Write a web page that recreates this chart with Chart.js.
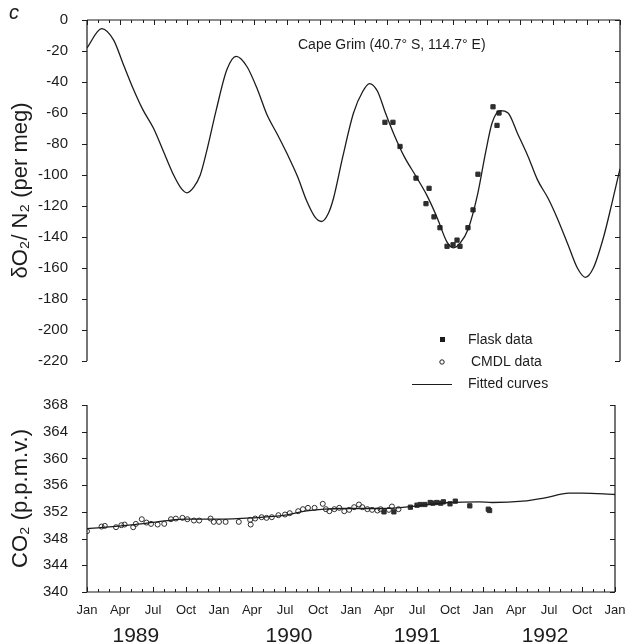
<!DOCTYPE html>
<html>
<head>
<meta charset="utf-8">
<script src="https://cdn.jsdelivr.net/npm/chart.js@4.4.1/dist/chart.umd.min.js"></script>
<style>
  body { margin: 0; background: #fff; }
  #wrap { position: relative; width: 628px; height: 643px; overflow: hidden; }
  #o2-canvas { position: absolute; left: 0; top: 0; }
  #co2-canvas { position: absolute; left: 0; top: 385px; }
</style>
</head>
<body>
<div id="wrap">
  <canvas id="o2-canvas" width="628" height="395"></canvas>
  <canvas id="co2-canvas" width="628" height="258"></canvas>
</div>
<script>
// time axis (decimal years) and its labels
const monthLabels = ["Jan", "Apr", "Jul", "Oct"];
const yearLabels = ["1989", "1990", "1991", "1992"];
const yearLabelValues = [1989.37, 1990.53, 1991.5, 1992.47];

// O2/N2 fitted curve (per meg)
const o2FitYears = [1989.0, 1989.11, 1989.2, 1989.27, 1989.35, 1989.42, 1989.5, 1989.57, 1989.65, 1989.71, 1989.75,
  1989.8, 1989.85, 1989.9, 1989.97, 1990.05, 1990.12, 1990.2, 1990.28, 1990.35, 1990.43, 1990.5, 1990.58, 1990.65,
  1990.71, 1990.76, 1990.81, 1990.85, 1990.92, 1991.0, 1991.07, 1991.12, 1991.18, 1991.24, 1991.3, 1991.38, 1991.47,
  1991.55, 1991.63, 1991.7, 1991.75, 1991.8, 1991.86, 1991.93, 1991.99, 1992.04, 1992.1, 1992.16, 1992.23, 1992.31,
  1992.38, 1992.46, 1992.53, 1992.61, 1992.68, 1992.74, 1992.8, 1992.88, 1992.94, 1993.0];
const o2FitValues = [-18, -5.5, -13, -28, -45, -58, -70, -84, -100, -109, -111.5,
  -108, -100, -84, -58, -32, -23.5, -30, -45, -61, -74, -86, -101, -117,
  -127, -130, -125, -115, -88, -60, -46, -41, -46, -60, -73, -88, -101,
  -113, -128, -143, -147, -144, -135, -113, -86, -66.5, -58.5, -60, -73, -88,
  -103, -115, -128, -145, -160, -166, -160, -139, -118, -96];

// O2/N2 flask data
const o2FlaskYears = [1991.236, 1991.296, 1991.349, 1991.469, 1991.544, 1991.567, 1991.604, 1991.649, 1991.702,
  1991.747, 1991.777, 1991.799, 1991.859, 1991.897, 1991.934, 1992.047, 1992.077, 1992.092];
const o2FlaskValues = [-66, -66, -81.6, -102, -118.5, -108.6, -127, -134, -146,
  -145, -142, -146, -134, -122.5, -99.5, -56, -68, -60];

// CO2 fitted curve (p.p.m.v.)
const co2FitYears = [1989.0, 1989.36, 1989.61, 1989.75, 1990.0, 1990.25, 1990.5, 1990.65, 1990.8, 1990.93, 1991.25,
  1991.5, 1991.75, 1991.97, 1992.07, 1992.3, 1992.47, 1992.65, 1992.75, 1993.0];
const co2FitValues = [349.5, 350.1, 350.7, 350.9, 350.9, 351.1, 351.5, 352.1, 352.4, 352.5, 352.5,
  352.9, 353.4, 353.5, 353.4, 353.6, 354.1, 354.8, 354.8, 354.6];

// CO2 CMDL data
const cmdlYears = [1989.0, 1989.11, 1989.135, 1989.22, 1989.26, 1989.285, 1989.35, 1989.37, 1989.415, 1989.45,
  1989.485, 1989.535, 1989.585, 1989.636, 1989.673, 1989.723, 1989.76, 1989.81, 1989.85, 1989.936, 1989.96,
  1990.0, 1990.05, 1990.15, 1990.236, 1990.24, 1990.274, 1990.323, 1990.36, 1990.4, 1990.45, 1990.5, 1990.536,
  1990.6, 1990.636, 1990.674, 1990.724, 1990.786, 1990.81, 1990.836, 1990.874, 1990.911, 1990.949, 1990.986,
  1991.024, 1991.06, 1991.086, 1991.124, 1991.16, 1991.2, 1991.224, 1991.287, 1991.31, 1991.36];
const cmdlValues = [349.1, 349.8, 349.9, 349.7, 350.0, 350.1, 349.7, 350.2, 350.9, 350.4,
  350.2, 350.1, 350.2, 350.9, 351.0, 351.1, 350.9, 350.7, 350.7, 351.0, 350.5,
  350.5, 350.5, 350.5, 350.8, 350.1, 351.0, 351.2, 351.1, 351.2, 351.5, 351.6, 351.8,
  352.1, 352.4, 352.6, 352.6, 353.2, 352.4, 352.1, 352.4, 352.6, 352.1, 352.3,
  352.7, 353.1, 352.7, 352.4, 352.3, 352.2, 352.4, 352.3, 352.8, 352.4];

// CO2 flask data
const co2FlaskYears = [1991.25, 1991.325, 1991.45, 1991.5, 1991.525, 1991.56, 1991.6, 1991.62, 1991.65, 1991.68,
  1991.7, 1991.75, 1991.79, 1991.9, 1992.04, 1992.05];
const co2FlaskValues = [352.0, 352.0, 352.7, 353.0, 353.1, 353.1, 353.4, 353.3, 353.4, 353.3,
  353.5, 353.2, 353.6, 352.9, 352.4, 352.2];

const FONT = "'Liberation Sans', 'DejaVu Sans', Arial, sans-serif";
const INK = "#1c1c1c";

function pairs(xs, ys) {
  return xs.map((x, i) => ({ x: x, y: ys[i] }));
}

function quarterTicks() {
  const ticks = [];
  for (let i = 0; i <= 16; i++) {
    ticks.push({ value: 1989 + i * 0.25 });
  }
  return ticks;
}

// horizontal axes: fixed height, no extra side padding for the end labels
function fixHeight(h) {
  return function (scale) {
    scale.height = h;
    scale.paddingLeft = 0;
    scale.paddingRight = 0;
  };
}

// frame with small tick marks, drawn from the chart's own scales
const framePlugin = {
  id: "frame",
  afterDraw(chart, args, opts) {
    const ctx = chart.ctx;
    const a = chart.chartArea;
    const x = chart.scales.x;
    const y = chart.scales.y;
    ctx.save();
    ctx.strokeStyle = INK;
    ctx.lineWidth = 1.2;
    ctx.beginPath();
    if (opts.sides.includes("left")) { ctx.moveTo(a.left, a.top); ctx.lineTo(a.left, a.bottom); }
    if (opts.sides.includes("right")) { ctx.moveTo(a.right, a.top); ctx.lineTo(a.right, a.bottom); }
    if (opts.sides.includes("top")) { ctx.moveTo(a.left, a.top); ctx.lineTo(a.right, a.top); }
    if (opts.sides.includes("bottom")) { ctx.moveTo(a.left, a.bottom); ctx.lineTo(a.right, a.bottom); }
    ctx.stroke();

    ctx.lineWidth = 1;
    ctx.beginPath();
    y.ticks.forEach(function (t) {
      const py = Math.round(y.getPixelForValue(t.value)) + 0.5;
      ctx.moveTo(a.left - 5, py); ctx.lineTo(a.left, py);
      ctx.moveTo(a.right, py); ctx.lineTo(a.right - 5, py);
    });
    const edge = opts.xEdge === "top" ? a.top : a.bottom;
    const dir = opts.xEdge === "top" ? 1 : -1;
    for (let m = 0; m <= 48; m++) {
      const px = Math.round(x.getPixelForValue(1989 + m / 12)) + 0.5;
      const len = m % 3 === 0 ? 5 : 3;
      ctx.moveTo(px, edge); ctx.lineTo(px, edge + dir * len);
    }
    ctx.stroke();
    ctx.restore();
  }
};

// panel letter, site name and the key
const o2TextPlugin = {
  id: "o2Text",
  afterDraw(chart) {
    const ctx = chart.ctx;
    const a = chart.chartArea;
    ctx.save();
    ctx.fillStyle = INK;
    ctx.font = "italic 20px " + FONT;
    ctx.textBaseline = "middle";
    ctx.fillText("c", 9, 13);

    ctx.font = "14px " + FONT;
    ctx.fillText("Cape Grim (40.7° S, 114.7° E)", a.left + 211, 45);

    const kx = a.right - 208;
    ctx.fillRect(kx + 28, 337, 5, 5);
    ctx.fillText("Flask data", kx + 56, 340);
    ctx.beginPath();
    ctx.lineWidth = 1;
    ctx.strokeStyle = INK;
    ctx.arc(kx + 30, 362, 2.2, 0, Math.PI * 2);
    ctx.stroke();
    ctx.fillText("CMDL data", kx + 59, 362);
    ctx.beginPath();
    ctx.lineWidth = 1.2;
    ctx.moveTo(kx, 384.5);
    ctx.lineTo(kx + 40, 384.5);
    ctx.stroke();
    ctx.fillText("Fitted curves", kx + 56, 384);
    ctx.restore();
  }
};

function lineSet(xs, ys) {
  return {
    data: pairs(xs, ys),
    showLine: true,
    pointRadius: 0,
    borderColor: INK,
    borderWidth: 1.3,
    cubicInterpolationMode: "monotone",
    order: 0
  };
}

function flaskSet(xs, ys) {
  return {
    data: pairs(xs, ys),
    pointStyle: "rect",
    pointRadius: 3,
    backgroundColor: "#2e2e2e",
    borderColor: "#2e2e2e",
    borderWidth: 1,
    order: 1
  };
}

const o2Chart = new Chart(document.getElementById("o2-canvas").getContext("2d"), {
  type: "scatter",
  data: {
    datasets: [
      lineSet(o2FitYears, o2FitValues),
      flaskSet(o2FlaskYears, o2FlaskValues)
    ]
  },
  options: {
    responsive: false,
    animation: false,
    layout: { padding: { left: 0, right: 8, top: 16, bottom: 34 } },
    plugins: { legend: { display: false }, tooltip: { enabled: false }, frame: { sides: ["left", "top", "right"], xEdge: "top" } },
    scales: {
      x: { type: "linear", min: 1989, max: 1993, display: false },
      y: {
        min: -220,
        max: 0,
        ticks: { stepSize: 20, padding: 11, color: INK, font: { family: FONT, size: 15 } },
        grid: { display: false },
        border: { display: false },
        title: { display: true, text: "δO₂/ N₂ (per meg)", color: INK, padding: { top: 8 }, font: { family: FONT, size: 22 } },
        afterFit: function (scale) { scale.width = 87; }
      }
    }
  },
  plugins: [framePlugin, o2TextPlugin]
});

const co2Chart = new Chart(document.getElementById("co2-canvas").getContext("2d"), {
  type: "scatter",
  data: {
    datasets: [
      lineSet(co2FitYears, co2FitValues),
      {
        data: pairs(cmdlYears, cmdlValues),
        pointStyle: "circle",
        pointRadius: 2.5,
        backgroundColor: "rgba(255,255,255,0)",
        borderColor: "#2e2e2e",
        borderWidth: 1,
        order: 2
      },
      flaskSet(co2FlaskYears, co2FlaskValues)
    ]
  },
  options: {
    responsive: false,
    animation: false,
    layout: { padding: { left: 0, right: 13, top: 10, bottom: 0 } },
    plugins: { legend: { display: false }, tooltip: { enabled: false }, frame: { sides: ["left", "bottom", "right"], xEdge: "bottom" } },
    scales: {
      x: {
        type: "linear",
        min: 1989,
        max: 1993,
        position: "bottom",
        afterBuildTicks: function (axis) { axis.ticks = quarterTicks(); },
        ticks: {
          autoSkip: false,
          maxRotation: 0,
          padding: 3,
          color: INK,
          font: { family: FONT, size: 13 },
          callback: function (v, i) { return monthLabels[i % 4]; }
        },
        grid: { display: false },
        border: { display: false },
        afterFit: fixHeight(24)
      },
      xYear: {
        type: "linear",
        min: 1989,
        max: 1993,
        position: "bottom",
        afterBuildTicks: function (axis) { axis.ticks = yearLabelValues.map(v => ({ value: v })); },
        ticks: {
          autoSkip: false,
          maxRotation: 0,
          padding: 0,
          color: INK,
          font: { family: FONT, size: 21 },
          callback: function (v, i) { return yearLabels[i]; }
        },
        grid: { display: false },
        border: { display: false },
        afterFit: fixHeight(27)
      },
      y: {
        min: 340,
        max: 368,
        ticks: { stepSize: 4, padding: 11, color: INK, font: { family: FONT, size: 15 } },
        grid: { display: false },
        border: { display: false },
        title: { display: true, text: "CO₂ (p.p.m.v.)", color: INK, padding: { top: 8 }, font: { family: FONT, size: 22 } },
        afterFit: function (scale) { scale.width = 87; }
      }
    }
  },
  plugins: [framePlugin]
});
</script>
</body>
</html>
